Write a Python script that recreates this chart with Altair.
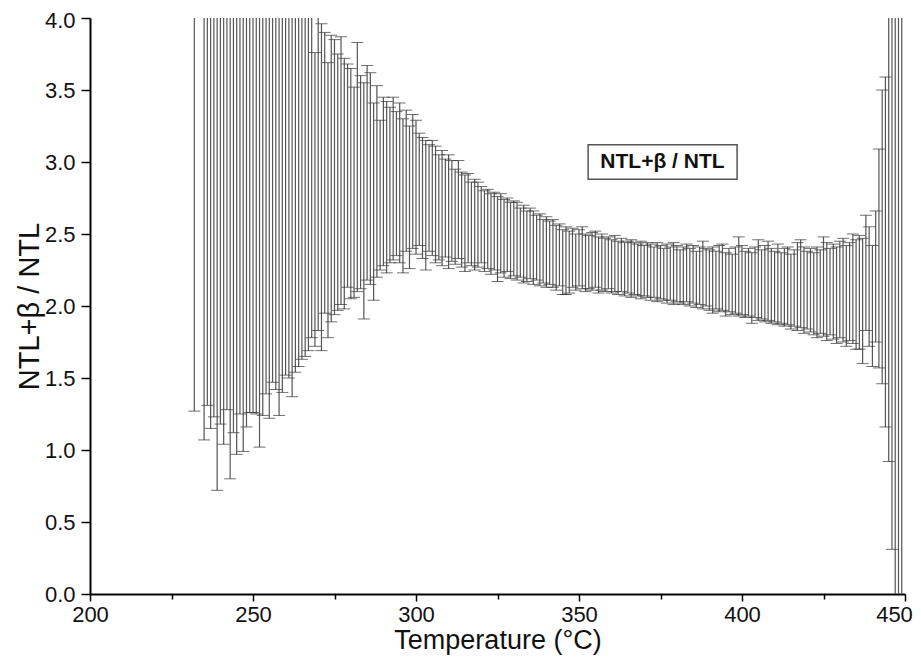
import altair as alt
import pandas as pd

temps = [232] + list(range(235, 450))

lower = [
    1.27,
    1.07, 1.31, 1.15, 1.23, 0.72, 1.18, 1.04, 1.28, 0.80, 1.12,   # 235-244
    0.97, 1.25, 0.99, 1.16, 1.26, 1.26, 1.25, 1.02, 1.24, 1.39,   # 245-254
    1.22, 1.47, 1.42, 1.24, 1.40, 1.52, 1.50, 1.37, 1.54, 1.58,   # 255-264
    1.63, 1.65, 1.69, 1.78, 1.72, 1.83, 1.69, 1.95, 1.78, 1.89,   # 265-274
    1.94, 1.97, 2.01, 1.98, 2.13, 2.05, 2.06, 2.10, 2.12, 1.91,   # 275-284
    2.18, 2.15, 2.04, 2.20, 2.25, 2.28,                           # 285-290
    2.23, 2.30, 2.32, 2.35, 2.30, 2.23, 2.38, 2.26, 2.40, 2.36,   # 291-300
    2.42, 2.33, 2.25, 2.38, 2.35, 2.30, 2.32, 2.28, 2.34, 2.26,   # 301-310
    2.31, 2.29, 2.33, 2.27, 2.24, 2.30, 2.28, 2.25, 2.27, 2.30,   # 311-320
    2.24, 2.26, 2.22, 2.25, 2.17, 2.23, 2.20, 2.24, 2.19, 2.21,   # 321-330
    2.18, 2.20, 2.16, 2.17, 2.19, 2.15, 2.18, 2.14, 2.16, 2.13,   # 331-340
    2.15, 2.13, 2.11, 2.14, 2.08, 2.08, 2.09, 2.13, 2.11, 2.14,   # 341-350
    2.12, 2.10, 2.12, 2.11, 2.13, 2.09, 2.11, 2.10, 2.12, 2.09,   # 351-360
    2.10, 2.08, 2.10, 2.07, 2.09, 2.06, 2.08, 2.07, 2.05, 2.07,   # 361-370
    2.06, 2.04, 2.06, 2.03, 2.05, 2.04, 2.02, 2.04, 2.01, 2.03,   # 371-380
    2.02, 2.01, 2.03, 2.00, 2.02, 1.99, 2.01, 1.98, 2.00, 1.97,   # 381-390
    1.95, 1.98, 1.96, 1.97, 1.93, 1.96, 1.94, 1.95, 1.93, 1.94,   # 391-400
    1.92, 1.93, 1.88, 1.92, 1.90, 1.91, 1.89, 1.90, 1.88, 1.89,   # 401-410
    1.87, 1.88, 1.86, 1.87, 1.84, 1.86, 1.83, 1.85, 1.81, 1.84,   # 411-420
    1.82, 1.80, 1.78, 1.81, 1.79, 1.76, 1.80, 1.77, 1.74, 1.78,   # 421-430
    1.75, 1.72, 1.76, 1.74, 1.70, 1.70, 1.60, 1.83, 1.72, 1.58,   # 431-440
    1.75, 1.57, 1.46, 1.16, 0.92, 0.31, -0.5, -0.5, -0.5,         # 441-449
]

upper = [
    4.6,
    4.8, 4.6, 4.7, 4.9, 4.5, 4.8, 4.6, 4.7, 4.8, 4.5,             # 235-244
    4.6, 4.7, 4.9, 4.6, 4.5, 4.7, 4.6, 4.8, 4.5, 4.6,             # 245-254
    4.4, 4.7, 4.5, 4.6, 4.4, 4.5, 4.3, 4.5, 4.4, 4.3,             # 255-264
    4.2, 4.4, 4.3, 4.4, 3.76, 4.3, 3.96, 3.90, 3.69, 3.88,        # 265-274
    3.85, 3.75, 3.87, 3.72, 3.68, 3.65, 3.52, 3.83, 3.60, 3.55,   # 275-284
    3.67, 3.62, 3.41, 3.53, 3.29, 3.45,                           # 285-290
    3.42, 3.38, 3.45, 3.35, 3.41, 3.30, 3.36, 3.25, 3.33, 3.29,   # 291-300
    3.20, 3.17, 3.15, 3.12, 3.15, 3.11, 3.05, 3.08, 3.02, 3.05,   # 301-310
    3.01, 2.95, 3.01, 2.93, 2.91, 2.92, 2.86, 2.88, 2.86, 2.83,   # 311-320
    2.80, 2.81, 2.78, 2.79, 2.76, 2.78, 2.74, 2.75, 2.72, 2.73,   # 321-330
    2.72, 2.68, 2.70, 2.66, 2.68, 2.66, 2.63, 2.64, 2.60, 2.62,   # 331-340
    2.59, 2.60, 2.56, 2.57, 2.53, 2.55, 2.52, 2.54, 2.50, 2.53,   # 341-350
    2.55, 2.50, 2.49, 2.51, 2.52, 2.48, 2.50, 2.47, 2.48, 2.46,   # 351-360
    2.49, 2.45, 2.47, 2.44, 2.45, 2.46, 2.44, 2.43, 2.45, 2.42,   # 361-370
    2.44, 2.43, 2.41, 2.44, 2.42, 2.40, 2.43, 2.41, 2.44, 2.42,   # 371-380
    2.39, 2.41, 2.43, 2.40, 2.42, 2.38, 2.41, 2.45, 2.40, 2.39,   # 381-390
    2.41, 2.38, 2.42, 2.43, 2.37, 2.40, 2.36, 2.41, 2.48, 2.42,   # 391-400
    2.38, 2.40, 2.37, 2.41, 2.46, 2.39, 2.42, 2.45, 2.40, 2.38,   # 401-410
    2.43, 2.37, 2.40, 2.41, 2.36, 2.39, 2.44, 2.46, 2.41, 2.38,   # 411-420
    2.40, 2.37, 2.41, 2.39, 2.48, 2.44, 2.40, 2.43, 2.41, 2.45,   # 421-430
    2.47, 2.42, 2.44, 2.50, 2.46, 2.49, 2.47, 2.63, 2.55, 2.42,   # 431-440
    2.66, 3.09, 3.50, 3.59, 4.6, 4.8, 4.7, 4.9, 4.6,              # 441-449
]

x_ticks = [200, 225, 250, 275, 300, 325, 350, 375, 400, 425, 450]
y_ticks = [0.0, 0.25, 0.5, 0.75, 1.0, 1.25, 1.5, 1.75, 2.0, 2.25, 2.5,
           2.75, 3.0, 3.25, 3.5, 3.75, 4.0]

label_text = ["NTL+β / NTL"]
label_x = [375.6]
label_y = [3.0]
box_x = [352.8]
box_x2 = [398.5]
box_y = [2.88]
box_y2 = [3.12]

n = min(len(temps), len(lower), len(upper))
df = pd.DataFrame({"T": temps[:n], "lo": lower[:n], "hi": upper[:n]})

FONT = "Liberation Sans"
TICKFONT = "Liberation Sans Narrow, Liberation Sans"

xscale = alt.Scale(domain=[200, 450], nice=False, zero=False)
yscale = alt.Scale(domain=[0, 4], nice=False, zero=False)

xaxis = alt.Axis(
    values=x_ticks,
    labelExpr="datum.value % 50 == 0 ? datum.label : ''",
    format="d",
    title="Temperature (°C)",
    grid=False,
    labelFlush=False,
    labelOverlap=False,
    labelOffset=alt.condition("datum.value == 450", alt.value(-11), alt.value(0)),
    tickSize=alt.condition("datum.value % 50 == 0", alt.value(7), alt.value(5)),
    labelPadding=3,
    titlePadding=2,
    titleFontSize=27,
)
yaxis = alt.Axis(
    values=y_ticks,
    labelExpr="datum.value % 0.5 == 0 ? datum.label : ''",
    format=".1f",
    title="NTL+β / NTL",
    grid=False,
    labelFlush=False,
    labelOverlap=False,
    labelOffset=alt.condition("datum.value == 4", alt.value(2), alt.value(0)),
    tickSize=alt.condition("datum.value % 0.5 == 0", alt.value(9), alt.value(5)),
    labelPadding=6,
    titlePadding=0,
    titleFontSize=29,
)

base = alt.Chart(df)

rules = base.mark_rule(color="#555555", strokeWidth=1.2, clip=True).encode(
    x=alt.X("T:Q", scale=xscale, axis=xaxis),
    y=alt.Y("lo:Q", scale=yscale, axis=yaxis),
    y2="hi:Q",
)
caps_lo = base.mark_tick(color="#333333", orient="horizontal", size=12,
                         thickness=1, clip=True).encode(
    x=alt.X("T:Q", scale=xscale),
    y=alt.Y("lo:Q", scale=yscale),
)
caps_hi = base.mark_tick(color="#333333", orient="horizontal", size=12,
                         thickness=1, clip=True).encode(
    x=alt.X("T:Q", scale=xscale),
    y=alt.Y("hi:Q", scale=yscale),
)

box_df = pd.DataFrame({"x": box_x, "x2": box_x2, "y": box_y, "y2": box_y2})
box = alt.Chart(box_df).mark_rect(fill="white", stroke="#555555",
                                  strokeWidth=1.5).encode(
    x=alt.X("x:Q", scale=xscale), x2="x2:Q",
    y=alt.Y("y:Q", scale=yscale), y2="y2:Q",
)
lab_df = pd.DataFrame({"x": label_x, "y": label_y, "t": label_text})
lab = alt.Chart(lab_df).mark_text(font=FONT, fontSize=21, fontWeight="bold",
                                  color="#111111").encode(
    x=alt.X("x:Q", scale=xscale),
    y=alt.Y("y:Q", scale=yscale),
    text="t:N",
)

chart = alt.layer(rules, caps_lo, caps_hi, box, lab).properties(
    width=815,
    height=576,
    autosize=alt.AutoSizeParams(type="none"),
    padding={"left": 82, "top": 10, "right": 8, "bottom": 64},
).configure_view(stroke=None).configure_axis(
    domainColor="black",
    domainWidth=2,
    tickColor="black",
    tickWidth=1.5,
    labelFont=TICKFONT,
    labelFontSize=22,
    labelColor="#111111",
    titleFont=FONT,
    titleFontWeight="normal",
    titleColor="#111111",
)

chart.save("out.html", embed_options={"renderer": "svg", "actions": False})
